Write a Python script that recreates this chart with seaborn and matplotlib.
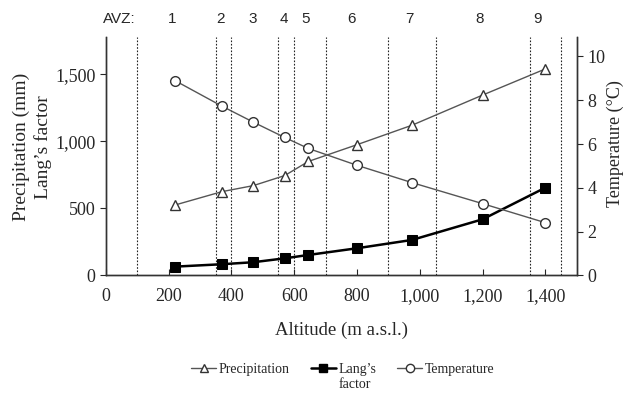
import matplotlib
matplotlib.use("Agg")
import pandas as pd
import seaborn as sns
import matplotlib.pyplot as plt
from matplotlib.lines import Line2D

# data
altitude = [220, 370, 470, 570, 645, 800, 975, 1200, 1400]
precipitation = [525, 625, 670, 745, 850, 975, 1120, 1345, 1540]
lang_factor = [66, 84, 99, 128, 153, 203, 265, 419, 655]
temperature = [8.9, 7.73, 7.0, 6.3, 5.8, 5.03, 4.24, 3.28, 2.41]

zone_bounds = [100, 350, 400, 550, 600, 700, 900, 1050, 1350, 1450]
zone_names = ["1", "2", "3", "4", "5", "6", "7", "8", "9"]
zone_label_x = [210, 365, 468, 567, 637, 783, 968, 1190, 1375]

df = pd.DataFrame({"altitude": altitude, "precipitation": precipitation,
                   "lang": lang_factor, "temperature": temperature})

sns.set_style("ticks")
plt.rcParams["font.family"] = ["Liberation Serif", "DejaVu Serif"]
plt.rcParams["font.size"] = 13

W, H = 627, 396
fig = plt.figure(figsize=(6.27, 3.96), dpi=100)
ax = fig.add_axes([0.1686, 0.3043, 0.7514, 0.6030])
ax2 = ax.twinx()

# zone dividers
for b in zone_bounds:
    ax.axvline(b, color="#222222", lw=0.8, ls=(0, (1.5, 1.5)), zorder=0)

sns.lineplot(data=df, x="altitude", y="precipitation", ax=ax, color="#555555", lw=1,
             marker="^", markersize=7, markerfacecolor="white", markeredgecolor="#333333",
             markeredgewidth=1, zorder=3)
sns.lineplot(data=df, x="altitude", y="lang", ax=ax, color="black", lw=1.8,
             marker="s", markersize=7, markerfacecolor="black", markeredgecolor="black",
             zorder=4)
sns.lineplot(data=df, x="altitude", y="temperature", ax=ax2, color="#555555", lw=1,
             marker="o", markersize=7, markerfacecolor="white", markeredgecolor="#333333",
             markeredgewidth=1, zorder=3)

ax.set_xlim(0, 1500)
ax.set_ylim(0, 1780)
ax2.set_ylim(0, 10.9)
ax.set_xticks(range(0, 1401, 200))
ax.set_xticklabels([f"{v:,}" for v in range(0, 1401, 200)])
ax.set_yticks([0, 500, 1000, 1500])
ax.set_yticklabels(["0", "500", "1,000", "1,500"])
ax2.set_yticks([0, 2, 4, 6, 8, 10])

ax.tick_params(axis="x", direction="in", length=4, pad=9, labelsize=13)
ax.tick_params(axis="y", direction="out", length=4, labelsize=13)
ax2.tick_params(axis="y", direction="out", length=4, labelsize=13)

for a in (ax, ax2):
    a.spines["top"].set_visible(False)
    for s in ("left", "right", "bottom"):
        a.spines[s].set_color("#333333")
        a.spines[s].set_linewidth(1)

ax.set_xlabel("Altitude (m a.s.l.)", fontsize=13.5, labelpad=12)
ax.set_ylabel("")
ax2.set_ylabel("")
fig.text(32.5 / W, 1 - 147 / H, "Precipitation (mm)\nLang’s factor", rotation=90,
         ha="center", va="center", multialignment="center", fontsize=14, linespacing=1.3)
fig.text(615 / W, 1 - 144 / H, "Temperature (°C)", rotation=90,
         ha="center", va="center", fontsize=13)

# AVZ zone labels
sans = ["Liberation Sans", "DejaVu Sans"]
ax.text(42, 1.045, "AVZ:", transform=ax.get_xaxis_transform(), ha="center", va="bottom",
        family=sans, fontsize=11)
for x, name in zip(zone_label_x, zone_names):
    ax.text(x, 1.045, name, transform=ax.get_xaxis_transform(), ha="center", va="bottom",
            family=sans, fontsize=11)

handles = [
    Line2D([], [], color="#555555", lw=1, marker="^", markersize=6,
           markerfacecolor="white", markeredgecolor="#333333"),
    Line2D([], [], color="black", lw=1.8, marker="s", markersize=6,
           markerfacecolor="black"),
    Line2D([], [], color="#555555", lw=1, marker="o", markersize=6,
           markerfacecolor="white", markeredgecolor="#333333"),
]
leg = fig.legend(handles, ["Precipitation", "Lang’s", "Temperature"],
                 loc="upper center", bbox_to_anchor=(343 / W, 1 - 356 / H), ncol=3,
                 frameon=False, fontsize=10, handlelength=1.8, handletextpad=0.2,
                 columnspacing=1.5, borderpad=0)

# second line of the wrapped "Lang's factor" label, placed under the first
fig.canvas.draw()
bb = leg.get_texts()[1].get_window_extent().transformed(fig.transFigure.inverted())
fig.text(bb.x0, bb.y0 - 0.005, "factor", ha="left", va="top", fontsize=10)

fig.savefig("out.png", dpi=100)
